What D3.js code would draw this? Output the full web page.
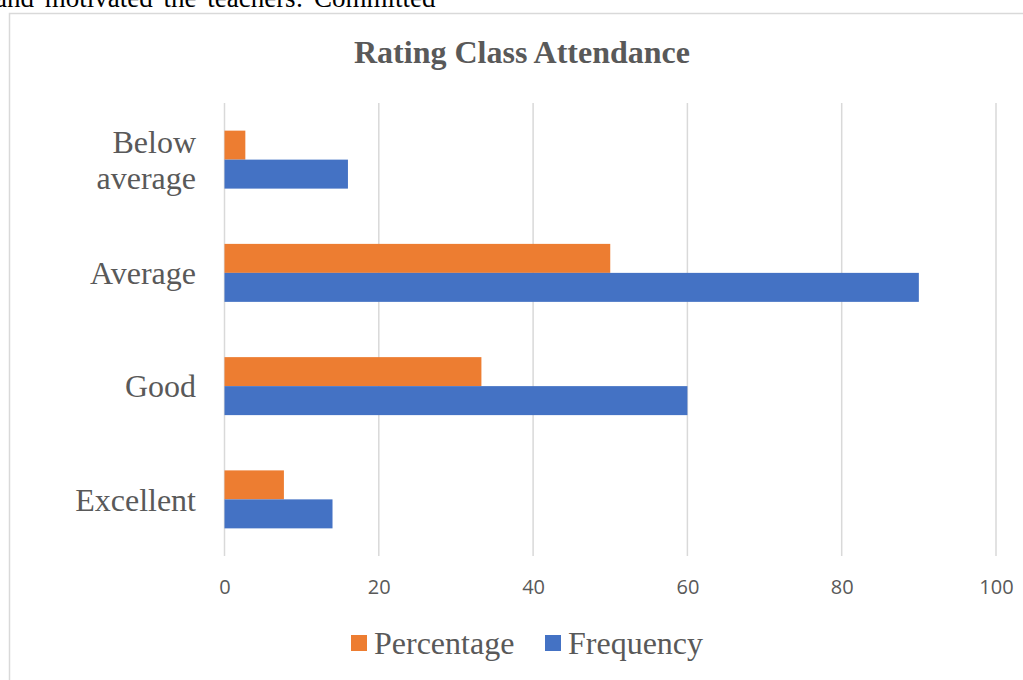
<!DOCTYPE html>
<html>
<head>
<meta charset="utf-8">
<title>Rating Class Attendance</title>
<script src="https://cdn.jsdelivr.net/npm/d3@7"></script>
<style>
  body { margin:0; background:#fff; overflow:hidden; }
  .serif { font-family:"Liberation Serif","Times New Roman",serif; fill:#595959; }
  .tick text { font-family:"Open Sans",sans-serif; font-size:20px; fill:#595959; }
</style>
</head>
<body>
<div id="chart"></div>
<script>
// data
var categories = ["Below average", "Average", "Good", "Excellent"];
var seriesNames = ["Percentage", "Frequency"];
var percentage = [2.7, 50, 33.3, 7.7];
var frequency = [16, 90, 60, 14];
var xTicks = [0, 20, 40, 60, 80, 100];
var colors = ["#ED7D31", "#4472C4"];

var width = 1023, height = 680;
var plotLeft = 224.5, plotRight = 996, plotTop = 103, plotBottom = 556;

var svg = d3.select("#chart").append("svg")
  .attr("width", width)
  .attr("height", height);

// text from the page above the chart
svg.append("text")
  .attr("class", "serif")
  .attr("x", -5).attr("y", 7)
  .style("font-size", "27px")
  .style("fill", "#000")
  .style("word-spacing", "4px")
  .text("and motivated the teachers: Committed");

// chart frame
svg.append("rect")
  .attr("x", 9.5).attr("y", 13.5)
  .attr("width", 1100).attr("height", 800)
  .attr("fill", "none")
  .attr("stroke", "#d9d9d9")
  .attr("stroke-width", 1.5);

svg.append("text")
  .attr("class", "serif")
  .attr("x", 522).attr("y", 63)
  .attr("text-anchor", "middle")
  .style("font-size", "32px")
  .style("font-weight", "bold")
  .text("Rating Class Attendance");

var x = d3.scaleLinear().domain([0, 100]).range([plotLeft, plotRight]);
var y = d3.scaleBand().domain(categories).range([plotTop, plotBottom])
  .paddingInner(0.488).paddingOuter(0.244);
var ySub = d3.scaleBand().domain(seriesNames).range([0, y.bandwidth()]);

// gridlines
svg.append("g").selectAll("line")
  .data(xTicks).enter().append("line")
  .attr("x1", function(d){ return x(d); })
  .attr("x2", function(d){ return x(d); })
  .attr("y1", plotTop).attr("y2", plotBottom)
  .attr("stroke", "#d9d9d9")
  .attr("stroke-width", 1.5);

// x axis labels
var xAxis = svg.append("g")
  .attr("transform", "translate(0," + (plotBottom + 24) + ")")
  .call(d3.axisBottom(x).tickValues(xTicks).tickSize(0).tickPadding(0));
xAxis.select(".domain").remove();
xAxis.selectAll("text").attr("dy", "0.71em");

// bars
var rows = categories.map(function(c, i){
  return { cat: c, vals: [percentage[i], frequency[i]] };
});
var groups = svg.append("g").selectAll("g")
  .data(rows).enter().append("g")
  .attr("transform", function(d){ return "translate(0," + y(d.cat) + ")"; });
groups.selectAll("rect")
  .data(function(d){ return d.vals.map(function(v, j){ return { s: seriesNames[j], v: v, j: j }; }); })
  .enter().append("rect")
  .attr("x", x(0))
  .attr("y", function(d){ return ySub(d.s); })
  .attr("width", function(d){ return x(d.v) - x(0); })
  .attr("height", ySub.bandwidth())
  .attr("fill", function(d){ return colors[d.j]; });

// category labels
var catLabels = svg.append("g").selectAll("text")
  .data(categories).enter().append("text")
  .attr("class", "serif")
  .attr("text-anchor", "end")
  .style("font-size", "32px")
  .attr("x", 196)
  .attr("y", function(d){ return y(d) + y.bandwidth() / 2; });
catLabels.each(function(d){
  var words = d === "Below average" ? ["Below", "average"] : [d];
  var t = d3.select(this);
  words.forEach(function(w, k){
    t.append("tspan")
      .attr("x", 196)
      .attr("dy", k === 0 ? (0.35 - (words.length - 1) * 0.56) + "em" : "1.12em")
      .text(w);
  });
});

// legend
var legendX = [351, 545];
var legend = svg.append("g").selectAll("g")
  .data(seriesNames).enter().append("g")
  .attr("transform", function(d, i){ return "translate(" + legendX[i] + ",635)"; });
legend.append("rect")
  .attr("width", 16).attr("height", 16)
  .attr("fill", function(d, i){ return colors[i]; });
legend.append("text")
  .attr("class", "serif")
  .attr("x", 23).attr("y", 8)
  .attr("dy", "0.35em")
  .style("font-size", "32px")
  .text(function(d){ return d; });
</script>
</body>
</html>
